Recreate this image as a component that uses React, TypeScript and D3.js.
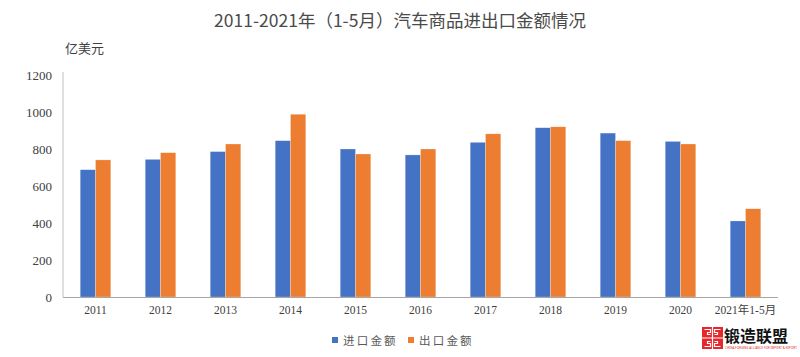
import React from "react";
import * as d3 from "d3";

const categories = ["2011", "2012", "2013", "2014", "2015", "2016", "2017", "2018", "2019", "2020", "2021年1-5月"];
const importValues = [688, 744, 786, 845, 800, 768, 836, 915, 886, 841, 411];
const exportValues = [741, 780, 827, 988, 773, 800, 882, 920, 845, 827, 477];
const yTicks = [0, 200, 400, 600, 800, 1000, 1200];
const seriesNames = ["进口金额", "出口金额"];
const colors = ["#4472C4", "#ED7D31"];

const W = 800, H = 357;
const left = 63, right = 778, top = 75, bottom = 297;
const serif = "'Liberation Serif', 'DejaVu Serif', 'Noto Sans CJK SC', serif";

export default function App() {
  const x = d3.scaleBand<string>().domain(categories).range([left, right]).paddingInner(0).paddingOuter(0);
  const y = d3.scaleLinear().domain([0, 1200]).range([bottom, top]);
  const barW = 15.3;
  const series = [importValues, exportValues];

  return (
    <svg width={W} height={H} style={{ position: "absolute", left: 0, top: 0, background: "#fff" }}>
      <rect x={0} y={0} width={W} height={H} fill="#fff" />
      <text x={400} y={27} textAnchor="middle" fontSize={17.5} fill="#4a4a4a"
        fontFamily="'Noto Sans CJK SC', sans-serif">2011-2021年（1-5月）汽车商品进出口金额情况</text>
      <text x={65} y={53} fontSize={13} fill="#404040" fontFamily={serif}>亿美元</text>
      {yTicks.map((t) => (
        <text key={t} x={52} y={y(t) + 4.5} textAnchor="end" fontSize={13} fill="#404040" fontFamily={serif}>{t}</text>
      ))}
      <line x1={left} x2={left} y1={top - 3} y2={bottom} stroke="#BFBFBF" strokeWidth={1} />
      {categories.map((c, i) => {
        const cx = (x(c) as number) + x.bandwidth() / 2;
        return (
          <g key={c}>
            {series.map((s, k) => (
              <rect key={k} x={cx - barW + k * barW} y={y(s[i])} width={barW} height={bottom - y(s[i])}
                fill={colors[k]} stroke="#fff" strokeOpacity={0.5} strokeWidth={0.5} />
            ))}
            <text x={cx} y={314} textAnchor="middle" fontSize={11.5} fill="#404040" fontFamily={serif}>{c}</text>
          </g>
        );
      })}
      <line x1={left} x2={right} y1={bottom + 0.5} y2={bottom + 0.5} stroke="#A6A6A6" strokeWidth={1} />
      {seriesNames.map((n, k) => (
        <g key={n}>
          <rect x={332 + k * 76} y={337} width={6} height={6} fill={colors[k]} />
          <text x={343 + k * 76} y={344.5} fontSize={11.5} fill="#595959" letterSpacing={2.2} fontFamily={serif}>{n}</text>
        </g>
      ))}
      <g>
        <rect x={702} y={327} width={21} height={22} fill="#E8272C" />
        <path d="M704.5,329.5 h6 v3 h-3 v2 h3 M720.5,329.5 h-6 v3 h3 v2 h-3 M704.5,346.5 h6 v-3 h-3 v-2 h3 M720.5,346.5 h-6 v-3 h3 v-2 h-3 M702,338 h21 M712.5,327 v22"
          fill="none" stroke="#fff" strokeWidth={1.2} />
        <text x={724} y={342} fontSize={16} fontWeight="bold" fill="#111" fontFamily="'Noto Sans CJK SC', sans-serif">锻造联盟</text>
        <text x={725} y={349} fontSize={3} fill="#E8272C" fontFamily="'Noto Sans', sans-serif">CHINA FORGING ALLIANCE FOR IMPORT &amp; EXPORT</text>
      </g>
    </svg>
  );
}
